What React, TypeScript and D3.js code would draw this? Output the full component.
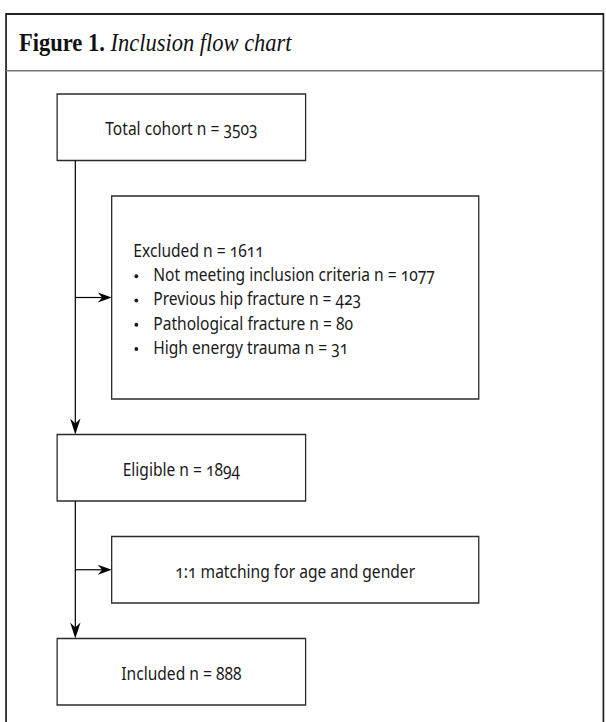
import { useEffect, useRef } from 'react';
import * as d3 from 'd3';

// flow chart content
const mainSteps = ['Total cohort', 'Eligible', 'Included'];
const mainCounts = [3503, 1894, 888];
const excludedLabel = 'Excluded';
const excludedTotal = 1611;
const exclusionReasons = [
  'Not meeting inclusion criteria',
  'Previous hip fracture',
  'Pathological fracture',
  'High energy trauma',
];
const exclusionCounts = [1077, 423, 80, 31];
const matchingLabel = '1:1 matching for age and gender';
const titleBold = 'Figure 1.';
const titleItalic = 'Inclusion flow chart';

const width = 606;
const height = 722;
// the figure is laid out on a 700px wide page and squeezed into the 606px frame
const pageW = 700;

const App = () => {
  const svgRef = useRef(null);

  useEffect(() => {
    const svg = d3.select(svgRef.current);
    svg.selectAll('*').remove();

    const sx = d3.scaleLinear().domain([0, pageW]).range([0, width]);
    const root = svg.append('g')
      .attr('transform', `scale(${sx(1)},1)`);

    const font = '"Noto Sans", Lato, sans-serif';
    const fontSize = 18;
    const lineH = 24.3;

    // outer frame (bottom edge runs off the page)
    root.append('rect')
      .attr('x', 7).attr('y', 14)
      .attr('width', 690).attr('height', 760)
      .attr('fill', 'none')
      .attr('stroke', '#222')
      .attr('stroke-width', 2);

    root.append('line')
      .attr('x1', 7).attr('x2', 697)
      .attr('y1', 70.7).attr('y2', 70.7)
      .attr('stroke', '#777')
      .attr('stroke-width', 1.5);

    const title = root.append('text')
      .attr('x', 22).attr('y', 51)
      .attr('font-family', '"Liberation Serif", "DejaVu Serif", serif')
      .attr('font-size', 26)
      .attr('fill', '#111');
    title.append('tspan').attr('font-weight', 'bold').text(titleBold + ' ');
    title.append('tspan').attr('font-style', 'italic').text(titleItalic);

    // boxes in flow order: main, side, main, side, main
    const boxes = [
      { kind: 'main', lines: [`${mainSteps[0]} n = ${mainCounts[0]}`] },
      {
        kind: 'list',
        lines: [`${excludedLabel} n = ${excludedTotal}`].concat(
          exclusionReasons.map((r, i) => `${r} n = ${exclusionCounts[i]}`)
        ),
      },
      { kind: 'main', lines: [`${mainSteps[1]} n = ${mainCounts[1]}`] },
      { kind: 'side', lines: [matchingLabel] },
      { kind: 'main', lines: [`${mainSteps[2]} n = ${mainCounts[2]}`] },
    ];

    const rowH = 66.5;
    const listH = 203;
    const gap = 35.5;
    const top0 = 94;
    const heights = boxes.map(b => (b.kind === 'list' ? listH : rowH));
    const tops = heights.map((_, i) => top0 + d3.sum(heights.slice(0, i)) + gap * i);

    const mainX = [66, 353];
    const sideX = [129, 553];
    const trunkX = 87;

    const g = root.append('g');

    boxes.forEach((b, i) => {
      const [x0, x1] = b.kind === 'main' ? mainX : sideX;
      const y0 = tops[i];
      const h = heights[i];
      g.append('rect')
        .attr('x', x0).attr('y', y0)
        .attr('width', x1 - x0).attr('height', h)
        .attr('fill', '#fff')
        .attr('stroke', '#2b2b2b')
        .attr('stroke-width', 1.5);

      const mid = y0 + h / 2;
      const firstBase = mid + 8 - ((b.lines.length - 1) / 2) * lineH;

      b.lines.forEach((ln, j) => {
        const t = g.append('text')
          .attr('font-family', font)
          .attr('font-size', fontSize)
          .attr('fill', '#1a1a1a')
          .style('font-variant-numeric', 'oldstyle-nums')
          .attr('y', firstBase + j * lineH);
        if (b.kind === 'list') {
          if (j === 0) {
            t.attr('x', x0 + 25).text(ln);
          } else {
            t.attr('x', x0 + 48).text(ln);
            g.append('ellipse')
              .attr('cx', x0 + 28.5)
              .attr('cy', firstBase + j * lineH - 5)
              .attr('rx', 2.2).attr('ry', 2)
              .attr('fill', '#1a1a1a');
          }
        } else {
          t.attr('x', (x0 + x1) / 2).attr('text-anchor', 'middle').text(ln);
        }
      });
    });

    // connectors
    const head = 'M0,0 L-6,-16 L0,-11 L6,-16 Z';
    const mainIdx = boxes.map((b, i) => (b.kind === 'main' ? i : -1)).filter(i => i >= 0);
    const conn = root.append('g');
    for (let k = 0; k < mainIdx.length - 1; k++) {
      const a = mainIdx[k];
      const b = mainIdx[k + 1];
      const yA = tops[a] + heights[a];
      const yB = tops[b];
      conn.append('line')
        .attr('x1', trunkX).attr('x2', trunkX)
        .attr('y1', yA).attr('y2', yB - 8)
        .attr('stroke', '#000').attr('stroke-width', 1.4);
      conn.append('path')
        .attr('d', head)
        .attr('transform', `translate(${trunkX},${yB})`)
        .attr('fill', '#000');
    }
    boxes.forEach((b, i) => {
      if (b.kind === 'main') return;
      const y = tops[i] + heights[i] / 2;
      conn.append('line')
        .attr('x1', trunkX).attr('x2', sideX[0] - 8)
        .attr('y1', y).attr('y2', y)
        .attr('stroke', '#000').attr('stroke-width', 1.2);
      conn.append('path')
        .attr('d', 'M0,0 L-5,-16 L0,-11 L5,-16 Z')
        .attr('transform', `translate(${sideX[0]},${y}) rotate(-90)`)
        .attr('fill', '#000');
    });
  }, []);

  return (
    <svg
      ref={svgRef}
      width={width}
      height={height}
      style={{ position: 'absolute', left: 0, top: 0, background: '#fff' }}
    ></svg>
  );
};

export default App;
